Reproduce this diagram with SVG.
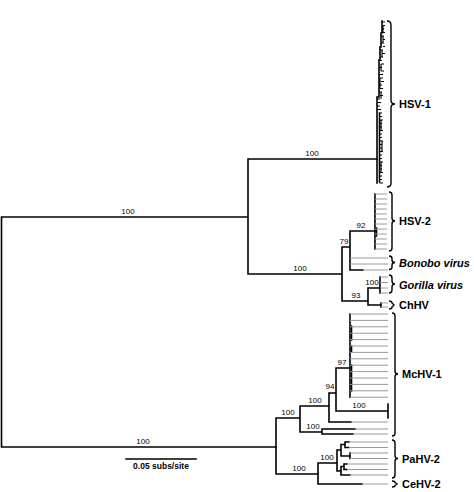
<svg xmlns="http://www.w3.org/2000/svg" width="474" height="492" viewBox="0 0 474 492">
<style>
.br{stroke:#000;stroke-width:1.6;fill:none;stroke-linecap:square}
.tk{stroke:#000;stroke-width:1.1;fill:none}
.lf{stroke:#9a9a9a;stroke-width:1;fill:none}
.brace{stroke:#000;stroke-width:1.4;fill:none}
.bs{font-family:"Liberation Sans",Arial,sans-serif;font-size:8px;fill:#000;text-anchor:middle}
.lab{font-family:"Liberation Sans",Arial,sans-serif;font-size:11px;font-weight:bold;fill:#000}
.it{font-style:italic}
</style>
<rect width="474" height="492" fill="#fff"/>
<g id="connectors">
<path class="br" d="M1.5,217V447M1.5,217H248M1.5,447H276M248,159V274M248,159H377M248,274H342M342,247V301M342,247H350M342,301H368M350,231V270M350,231H375M350,270H363M368,288V305M368,288H380M380,277V293M368,305H381M381,303V307"/>
<path class="br" d="M276,418V474M276,418H300M276,474H318M300,406V432M300,406H329M300,432H322M329,393V422M329,393H336M329,422H351M336,368V411M336,368H350M336,411H388M388,404V418M350,314V397.2M322,429V434M322,429H355M322,434H353"/>
<path class="br" d="M318,463V484M318,463H337M318,484H362M337,450V471M337,450H341M341,444.5V456M341,444.5H345M345,442V447.5M345,442H349M345,447.5H349M341,456H350M350,453V458.5M337,471H341M341,466.5V475M341,466.5H344M344,464V469.5M344,464H347M344,469.5H347M341,475H350"/>
<path class="br" d="M375,194V249M351.5,326V340M351.5,346V352M351.5,365V391"/>
<path class="br" stroke-width="2" d="M376.5,228V236"/>
<path class="br" d="M382,21V33H381V47H380V60H379V97H377V183M379.5,113V182"/>
<path class="tk" d="M382,22H385M383,25.5H385M382,29H384M382,32.5H385M381,36H384M383,39.5H385M381,43H384M383,46.5H385M380,50H383M382,53.5H385M380,57H383M379,60.5H382M381,64H384M379,67.5H382M381,71H384M379,74.5H383M380,78H383M381,81.5H384M379,85H382M380,88.5H383M379,92H382M380,95.5H383M383,36V43M382,50V57M381,64V71M380,78V88.5M383,25.5V32.5M381,92V99"/>
<path class="tk" d="M377,99H380M377,102.5H381M377,106H380M377,109.5H381M379.5,113H382M379.5,116.5H382M379.5,120H383M379.5,123.5H382M379.5,127H382M379.5,130.5H383M379.5,134H382M379.5,137.5H382M379.5,141H383M379.5,144.5H382M379.5,148H382M379.5,151.5H383M379.5,155H382M379.5,158.5H382M379.5,162H383M379.5,165.5H382M379.5,169H382M379.5,172.5H383M379.5,176H382M379.5,179.5H382M379.5,183H383M381,120V130.5M382,141V151.5M381,162V172.5"/>
<path class="lf" d="M375,194H387M375,199H387M375,204H387M375,209H387M375,214H387M375,219H387M375,224H387M375,229H387M375,234H387M375,239H387M375,244H387M375,249H387M350,258H388M350,264H388M363,270H388M380,277H388M380,282.5H388M380,288H388M380,293H388M381,303H388M381,307H388"/>
<path class="lf" d="M350,314H388M350,320.4H388M350,326.8H388M350,333.2H388M350,339.6H388M350,346H388M350,352.4H388M350,358.8H388M350,365.2H388M350,371.6H388M350,378H388M350,384.4H388M350,390.8H388M350,397.2H388M351,422H388M355,429H388M353,434H388M349,442H388M349,447.5H388M350,453H388M350,458.5H388M347,464H388M347,469.5H388M350,475H388M362,484H388"/>
</g>
<g id="supports">
<text class="bs" x="128" y="214">100</text>
<text class="bs" x="312" y="156">100</text>
<text class="bs" x="300" y="271">100</text>
<text class="bs" x="361" y="228">92</text>
<text class="bs" x="344" y="244">79</text>
<text class="bs" x="372" y="285">100</text>
<text class="bs" x="356" y="298">93</text>
<text class="bs" x="143" y="444">100</text>
<text class="bs" x="288" y="415">100</text>
<text class="bs" x="315" y="403">100</text>
<text class="bs" x="330" y="389">94</text>
<text class="bs" x="342" y="365">97</text>
<text class="bs" x="359" y="408">100</text>
<text class="bs" x="313" y="429">100</text>
<text class="bs" x="327" y="460">100</text>
<text class="bs" x="299" y="471">100</text>
</g>
<g id="hsv1">
<path class="brace" d="M387,21Q391,21 391,25V100Q391,104 395,104Q391,104 391,108V183Q391,187 387,187"/>
<text class="lab" x="399" y="108">HSV-1</text>
</g>
<g id="hsv2">
<path class="brace" d="M389,192Q392,192 392,195V218Q392,221 395,221Q392,221 392,224V248Q392,251 389,251"/>
<text class="lab" x="399" y="225">HSV-2</text>
</g>
<g id="bonobo">
<path class="brace" d="M389,256Q392,256 392,258.5V260Q392,262.5 395,262.5Q392,262.5 392,265V267Q392,269.5 389,269.5"/>
<text class="lab it" x="399" y="267">Bonobo virus</text>
</g>
<g id="gorilla">
<path class="brace" d="M389,275Q392,275 392,278V281Q392,284 395,284Q392,284 392,287V290Q392,293 389,293"/>
<text class="lab it" x="399" y="289">Gorilla virus</text>
</g>
<g id="chhv">
<path class="brace" d="M389,301Q392,301 392,303L394,305L392,307Q392,309 389,309"/>
<text class="lab" x="399" y="309">ChHV</text>
</g>
<g id="mchv1">
<path class="brace" d="M392,313Q395,313 395,316V371Q395,374 398,374Q395,374 395,377V433Q395,436 392,436"/>
<text class="lab" x="402" y="378">McHV-1</text>
</g>
<g id="pahv2">
<path class="brace" d="M392,440Q395,440 395,443V455.5Q395,458.5 398,458.5Q395,458.5 395,461.5V475Q395,478 392,478"/>
<text class="lab" x="402" y="463">PaHV-2</text>
</g>
<g id="cehv2">
<path class="brace" d="M392,481Q395,481 395,482.5L397,484L395,485.5Q395,487 392,487"/>
<text class="lab" x="402" y="488">CeHV-2</text>
</g>
<g id="scale">
<path class="br" d="M126,459H196"/>
<text class="bs" x="161" y="469" style="font-size:8.5px;font-weight:bold">0.05 subs/site</text>
</g>
</svg>
